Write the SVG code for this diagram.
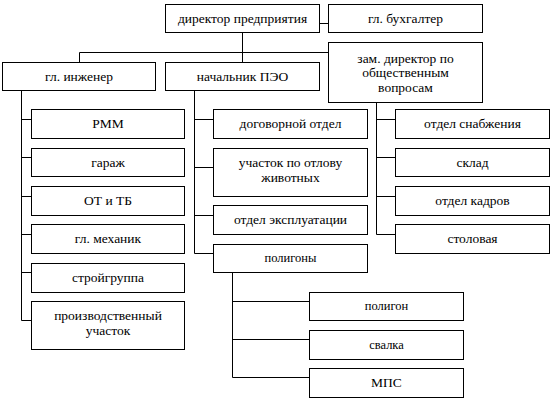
<svg xmlns="http://www.w3.org/2000/svg" width="556" height="404" viewBox="0 0 556 404">
<style>
rect{fill:#fff;stroke:#000;stroke-width:1}
text{font-family:'Liberation Serif','Times New Roman',serif;font-size:13.5px;fill:#000;text-anchor:middle}
text.s{font-size:12.5px}
#connectors path{fill:none;stroke:#000;stroke-width:1}
</style>
<rect x="0" y="0" width="556" height="404" style="stroke:none"/>
<g id="connectors">
<path d="M319.5 23.5H328.5"/>
<path d="M242.5 32.5V62.5M79.5 62.5V52.5H328.5"/>
<path d="M21.5 90.5V320.5M21.5 119.5H31.5M21.5 157.5H31.5M21.5 196.5H31.5M21.5 234.5H31.5M21.5 272.5H31.5M21.5 320.5H31.5"/>
<path d="M194.5 90.5V253.5M194.5 119.5H213.5M194.5 167.5H213.5M194.5 215.5H213.5M194.5 253.5H213.5"/>
<path d="M376.5 88V234.5M376.5 119.5H395.5M376.5 157.5H395.5M376.5 196.5H395.5M376.5 234.5H395.5"/>
<path d="M232.5 272.5V377.5M232.5 301.5H309.5M232.5 339.5H309.5M232.5 377.5H309.5"/>
</g>
<g id="director"><rect x="165.5" y="4.5" width="154" height="28"/><text x="242.5" y="22.5">директор предприятия</text></g>
<g id="buh"><rect x="328.5" y="4.5" width="154" height="28"/><text x="405.5" y="22.5">гл. бухгалтер</text></g>
<g id="zam"><rect x="328.5" y="42.5" width="154" height="60"/><text x="405.5" y="62.5">зам. директор по</text><text x="405.5" y="77">общественным</text><text x="405.5" y="91.5">вопросам</text></g>
<g id="ingener"><rect x="2.5" y="62.5" width="153" height="28"/><text x="79" y="80.5">гл. инженер</text></g>
<g id="peo"><rect x="165.5" y="62.5" width="154" height="28"/><text x="242.5" y="80.5">начальник ПЭО</text></g>
<g id="rmm"><rect x="31.5" y="109.5" width="153" height="29"/><text x="108" y="128">РММ</text></g>
<g id="garazh"><rect x="31.5" y="148.5" width="153" height="28"/><text x="108" y="166.5">гараж</text></g>
<g id="ottb"><rect x="31.5" y="186.5" width="153" height="29"/><text x="108" y="205">ОТ и ТБ</text></g>
<g id="mehanik"><rect x="31.5" y="224.5" width="153" height="29"/><text x="108" y="243">гл. механик</text></g>
<g id="stroy"><rect x="31.5" y="263.5" width="153" height="29"/><text x="108" y="282">стройгруппа</text></g>
<g id="proizv"><rect x="31.5" y="301.5" width="153" height="48"/><text x="108" y="319.5">производственный</text><text x="108" y="334.5">участок</text></g>
<g id="dogovor"><rect x="213.5" y="109.5" width="154" height="29"/><text x="290.5" y="128">договорной отдел</text></g>
<g id="otlov"><rect x="213.5" y="148.5" width="154" height="48"/><text x="290.5" y="167">участок по отлову</text><text x="290.5" y="181.5">животных</text></g>
<g id="expl"><rect x="213.5" y="205.5" width="154" height="29"/><text x="290.5" y="224">отдел эксплуатации</text></g>
<g id="poligony"><rect x="213.5" y="244.5" width="154" height="28"/><text class="s" x="290.5" y="262">полигоны</text></g>
<g id="snab"><rect x="395.5" y="109.5" width="154" height="29"/><text x="472.5" y="128">отдел снабжения</text></g>
<g id="sklad"><rect x="395.5" y="148.5" width="154" height="28"/><text x="472.5" y="166.5">склад</text></g>
<g id="kadry"><rect x="395.5" y="186.5" width="154" height="29"/><text x="472.5" y="205">отдел кадров</text></g>
<g id="stolovaya"><rect x="395.5" y="224.5" width="154" height="29"/><text x="472.5" y="243">столовая</text></g>
<g id="poligon"><rect x="309.5" y="292.5" width="154" height="28"/><text class="s" x="386.5" y="310">полигон</text></g>
<g id="svalka"><rect x="309.5" y="330.5" width="154" height="29"/><text class="s" x="386.5" y="349">свалка</text></g>
<g id="mps"><rect x="309.5" y="368.5" width="154" height="29"/><text x="386.5" y="387">МПС</text></g>
</svg>
